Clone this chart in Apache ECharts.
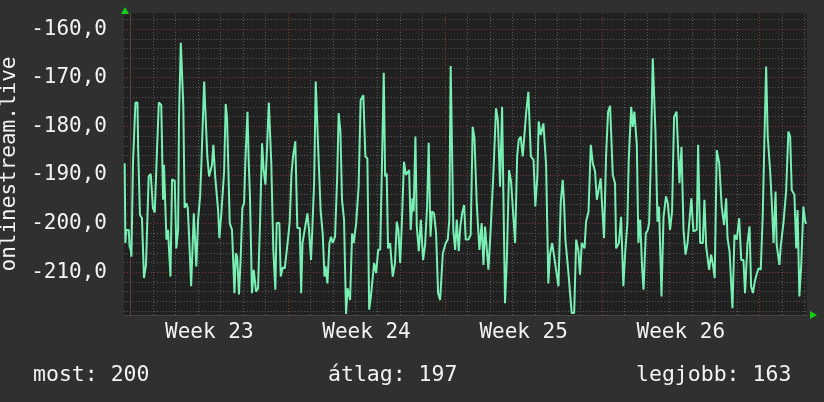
<!DOCTYPE html>
<html>
<head>
<meta charset="utf-8">
<script src="https://cdn.jsdelivr.net/npm/echarts@6/dist/echarts.min.js"></script>
<style>
  html, body { margin: 0; padding: 0; background: #303030; }
  #chart { width: 824px; height: 402px; }
</style>
</head>
<body>
<div id="chart"></div>
<script>
// readings as [day since start of week 23, value]
const week23 = [[-0.27,-187.6],[-0.24,-204.0],[-0.20,-201.3],[-0.09,-201.3],[-0.05,-204.7],[0.00,-205.4],[0.03,-206.8],[0.10,-187.6],[0.15,-187.3],[0.21,-175.1],[0.30,-175.1],[0.33,-184.5],[0.38,-184.5],[0.41,-198.2],[0.50,-198.9],[0.59,-211.2],[0.68,-208.5],[0.73,-208.1],[0.80,-190.3],[0.89,-189.8],[0.95,-189.8],[0.99,-196.8],[1.07,-197.7],[1.17,-184.9],[1.25,-175.1],[1.36,-175.6],[1.41,-187.9],[1.44,-195.1],[1.48,-187.9],[1.54,-187.9],[1.59,-203.3],[1.66,-201.3],[1.72,-201.3],[1.77,-210.9],[1.84,-190.9],[1.96,-191.2],[2.03,-205.1],[2.11,-201.3],[2.15,-178.3],[2.20,-178.0],[2.23,-162.8],[2.29,-162.8],[2.34,-175.6],[2.40,-196.8],[2.48,-195.8],[2.54,-196.8],[2.60,-202.7],[2.69,-212.9],[2.81,-197.9],[2.88,-197.9],[2.92,-208.8],[3.00,-199.2],[3.09,-194.4],[3.15,-187.3],[3.19,-187.3],[3.27,-170.8],[3.32,-176.3],[3.37,-176.3],[3.41,-186.2],[3.49,-190.3],[3.55,-190.0],[3.62,-187.9],[3.68,-183.8],[3.76,-190.3],[3.81,-190.3],[3.89,-197.2],[3.95,-203.0],[4.04,-197.5],[4.08,-197.5],[4.16,-189.3],[4.23,-175.4],[4.29,-178.3],[4.33,-178.3],[4.41,-199.9],[4.51,-201.3],[4.56,-201.6],[4.62,-214.3],[4.68,-206.1],[4.74,-206.8],[4.82,-214.6],[4.90,-206.8],[4.97,-196.8],[5.05,-195.8],[5.11,-186.6],[5.20,-177.0],[5.25,-186.6],[5.31,-194.4],[5.40,-214.3],[5.48,-209.5],[5.54,-209.4],[5.58,-214.0],[5.67,-213.3],[5.76,-199.6],[5.85,-183.5],[5.92,-189.0],[6.00,-192.0],[6.07,-184.5],[6.15,-175.1],[6.21,-175.1],[6.26,-187.6],[6.35,-205.4],[6.44,-213.6],[6.50,-199.9],[6.62,-199.9],[6.68,-210.9],[6.77,-209.0],[6.86,-209.2]]
const week24 = [[7.01,-203.0],[7.08,-199.6],[7.16,-189.7],[7.23,-186.2],[7.33,-183.1],[7.42,-200.9],[7.53,-200.9],[7.59,-214.3],[7.65,-204.0],[7.72,-204.0],[7.87,-197.9],[7.94,-201.3],[8.03,-207.5],[8.08,-202.0],[8.17,-191.4],[8.24,-170.8],[8.31,-170.8],[8.36,-185.9],[8.46,-197.5],[8.55,-202.0],[8.63,-210.9],[8.68,-208.8],[8.76,-212.3],[8.85,-204.0],[8.92,-202.7],[9.00,-204.0],[9.10,-202.7],[9.20,-189.7],[9.26,-177.3],[9.34,-181.1],[9.41,-195.1],[9.50,-199.2],[9.59,-218.6],[9.66,-213.3],[9.77,-215.7],[9.86,-202.0],[9.93,-204.0],[10.04,-199.9],[10.15,-192.4],[10.24,-174.6],[10.36,-173.6],[10.45,-186.2],[10.54,-186.6],[10.62,-217.7],[10.69,-215.3],[10.84,-208.1],[10.93,-210.2],[11.02,-205.4],[11.11,-205.4],[11.18,-190.0],[11.27,-169.0],[11.33,-190.3],[11.40,-189.7],[11.46,-205.1],[11.55,-204.0],[11.67,-210.9],[11.77,-208.1],[11.85,-199.6],[11.92,-201.3],[12.00,-208.1],[12.07,-200.6],[12.17,-187.3],[12.26,-190.0],[12.40,-189.0],[12.47,-201.3],[12.55,-194.8],[12.60,-197.5],[12.68,-182.1],[12.74,-200.6],[12.83,-205.7],[12.92,-199.2],[13.02,-207.5],[13.11,-204.4],[13.20,-196.5],[13.27,-183.4],[13.35,-202.7],[13.42,-197.5],[13.51,-197.9],[13.60,-202.0],[13.69,-214.3],[13.78,-215.7],[13.90,-206.1]]
const week25 = [[14.03,-204.0],[14.12,-203.3],[14.19,-199.2],[14.25,-167.6],[14.31,-167.6],[14.37,-201.6],[14.45,-205.4],[14.52,-199.2],[14.61,-205.7],[14.68,-200.6],[14.76,-197.9],[14.85,-196.2],[14.92,-203.3],[15.04,-203.3],[15.14,-202.3],[15.23,-180.1],[15.31,-182.5],[15.41,-195.8],[15.53,-205.4],[15.63,-199.9],[15.71,-208.5],[15.78,-200.6],[15.93,-209.5],[16.03,-201.3],[16.15,-190.0],[16.27,-176.3],[16.35,-178.7],[16.45,-192.4],[16.54,-176.0],[16.67,-216.4],[16.75,-207.5],[16.85,-189.0],[16.94,-191.4],[17.12,-204.0],[17.21,-186.2],[17.28,-182.8],[17.37,-182.1],[17.46,-186.2],[17.61,-177.3],[17.71,-172.9],[17.82,-186.2],[17.94,-186.9],[18.02,-196.5],[18.11,-190.3],[18.17,-179.0],[18.26,-181.8],[18.38,-179.4],[18.50,-187.9],[18.60,-212.3],[18.67,-206.4],[18.77,-204.0],[18.86,-206.8],[19.05,-212.9],[19.15,-195.8],[19.24,-191.0],[19.30,-195.8],[19.36,-203.3],[19.49,-209.9],[19.57,-209.9],[19.64,-218.4],[19.75,-218.4],[19.84,-203.3],[19.94,-205.7],[20.01,-210.5],[20.09,-204.0],[20.21,-205.1],[20.28,-199.6],[20.39,-197.5],[20.49,-183.8],[20.58,-187.6],[20.68,-189.3],[20.76,-195.1],[20.93,-190.7],[20.98,-195.1]]
const week26 = [[21.08,-203.0],[21.17,-186.2],[21.26,-177.0],[21.35,-175.8],[21.47,-190.0],[21.57,-191.7],[21.62,-205.1],[21.74,-204.0],[21.84,-198.6],[21.94,-212.9],[22.03,-205.4],[22.12,-199.9],[22.18,-186.9],[22.29,-176.0],[22.36,-180.1],[22.43,-177.0],[22.54,-183.8],[22.61,-204.0],[22.69,-199.2],[22.78,-209.5],[22.84,-213.6],[22.94,-202.0],[23.03,-201.3],[23.09,-199.9],[23.16,-187.6],[23.25,-166.0],[23.31,-166.0],[23.37,-181.1],[23.46,-199.6],[23.53,-196.5],[23.64,-215.0],[23.73,-198.6],[23.77,-198.2],[23.84,-194.4],[23.92,-195.8],[24.02,-201.3],[24.11,-197.5],[24.20,-178.1],[24.31,-177.0],[24.44,-191.7],[24.53,-184.2],[24.62,-201.3],[24.71,-206.4],[24.80,-204.0],[24.97,-194.8],[25.06,-201.6],[25.21,-201.3],[25.27,-183.8],[25.36,-204.0],[25.48,-204.0],[25.55,-195.1],[25.63,-204.7],[25.76,-209.5],[25.85,-206.4],[25.92,-208.1],[26.01,-211.2],[26.10,-184.9],[26.21,-187.6],[26.32,-196.5],[26.43,-200.3],[26.52,-194.8],[26.58,-203.0],[26.67,-205.7],[26.80,-217.4],[26.89,-202.3],[26.99,-203.3],[27.10,-198.9],[27.19,-207.5],[27.29,-207.5],[27.36,-214.3],[27.47,-204.0],[27.56,-200.6],[27.63,-212.9],[27.71,-214.3],[27.78,-212.3],[27.85,-210.9],[27.96,-209.2]]
const week27 = [[28.06,-209.5],[28.15,-198.2],[28.21,-185.5],[28.30,-167.7],[28.37,-182.1],[28.48,-189.3],[28.55,-195.5],[28.63,-204.0],[28.72,-193.4],[28.77,-204.4],[28.89,-208.5],[28.95,-204.7],[29.07,-199.9],[29.19,-193.4],[29.29,-181.1],[29.37,-182.1],[29.44,-193.1],[29.56,-194.1],[29.64,-205.1],[29.70,-197.2],[29.78,-215.0],[29.86,-208.8],[29.96,-196.5],[30.05,-199.9],[30.11,-199.9]]

const weekNames = ['Week 23', 'Week 24', 'Week 25', 'Week 26']
const weekMiddles = [3.5, 10.5, 17.5, 24.5]
const weekStarts = [0, 7, 14, 21, 28]
const yMajor = [-210, -200, -190, -180, -170, -160]
const yLabel = 'onlinestream.live'
const summary = ['most: 200', 'átlag: 197', 'legjobb: 163']

const FONT = '"DejaVu Sans Mono", "Liberation Mono", monospace'
const TEXT = '#f2f2f2'

const dayLines = []
for (let d = 0; d <= 30; d++) {
  if (weekStarts.indexOf(d) < 0) dayLines.push({ xAxis: d })
}
const yMinorLines = []
for (let v = -218; v <= -158; v += 2) {
  if (yMajor.indexOf(v) < 0) yMinorLines.push({ yAxis: v })
}
const minorStyle = { color: '#575757', width: 1, type: [1, 2] }
const majorStyle = { color: '#7e3636', width: 1, type: [1, 2] }

function gridSeries (lines, style) {
  return {
    type: 'line',
    data: [],
    silent: true,
    markLine: {
      z: 1,
      silent: true,
      symbol: 'none',
      label: { show: false },
      lineStyle: style,
      data: lines
    }
  }
}

const chart = echarts.init(document.getElementById('chart'))
chart.setOption({
  animation: false,
  backgroundColor: '#303030',
  grid: {
    left: 124,
    right: 17,
    top: 13,
    bottom: 87,
    containLabel: false,
    outerBoundsMode: 'none',
    show: true,
    backgroundColor: '#212121',
    borderWidth: 0
  },
  xAxis: {
    type: 'value',
    min: -0.30,
    max: 30.12,
    splitLine: { show: false },
    axisTick: { show: false },
    axisLine: { show: true, onZero: false, lineStyle: { color: '#454545', width: 1 } },
    axisLabel: {
      customValues: weekMiddles,
      margin: 7,
      color: TEXT,
      fontFamily: FONT,
      fontSize: 21,
      formatter: (v) => weekNames[weekMiddles.indexOf(v)] || ''
    }
  },
  yAxis: {
    type: 'value',
    min: -218.8,
    max: -156.7,
    name: yLabel,
    nameLocation: 'middle',
    nameRotate: 90,
    nameGap: 92,
    nameTextStyle: { color: TEXT, fontFamily: FONT, fontSize: 21 },
    splitLine: { show: false },
    axisTick: { show: false },
    axisLine: { show: true, lineStyle: { color: '#454545', width: 1 } },
    axisLabel: {
      showMinLabel: false,
      showMaxLabel: false,
      margin: 17,
      color: TEXT,
      fontFamily: FONT,
      fontSize: 21,
      formatter: (v) => (Math.round(v) % 10 === 0 && Math.abs(v - Math.round(v)) < 1e-6) ? v.toFixed(1).replace('.', ',') : ''
    }
  },
  series: [
    gridSeries(dayLines, minorStyle),
    gridSeries(yMinorLines, minorStyle),
    gridSeries(weekStarts.map(d => ({ xAxis: d })), majorStyle),
    gridSeries(yMajor.map(v => ({ yAxis: v })), majorStyle),
    {
      name: yLabel,
      type: 'line',
      z: 5,
      showSymbol: false,
      symbol: 'none',
      data: week23.concat(week24, week25, week26, week27),
      lineStyle: { color: '#78f0b4', width: 2 }
    }
  ],
  graphic: [
    { type: 'polygon', shape: { points: [[121, 14], [129, 14], [125, 7]] }, style: { fill: '#10d010' } },
    { type: 'polygon', shape: { points: [[810, 311], [810, 319], [817, 315]] }, style: { fill: '#10d010' } },
    { type: 'text', left: 33, top: 364, style: { text: summary[0], font: '21.5px ' + FONT, fill: TEXT } },
    { type: 'text', left: 328, top: 364, style: { text: summary[1], font: '21.5px ' + FONT, fill: TEXT } },
    { type: 'text', left: 636, top: 364, style: { text: summary[2], font: '21.5px ' + FONT, fill: TEXT } }
  ]
})
</script>
</body>
</html>
